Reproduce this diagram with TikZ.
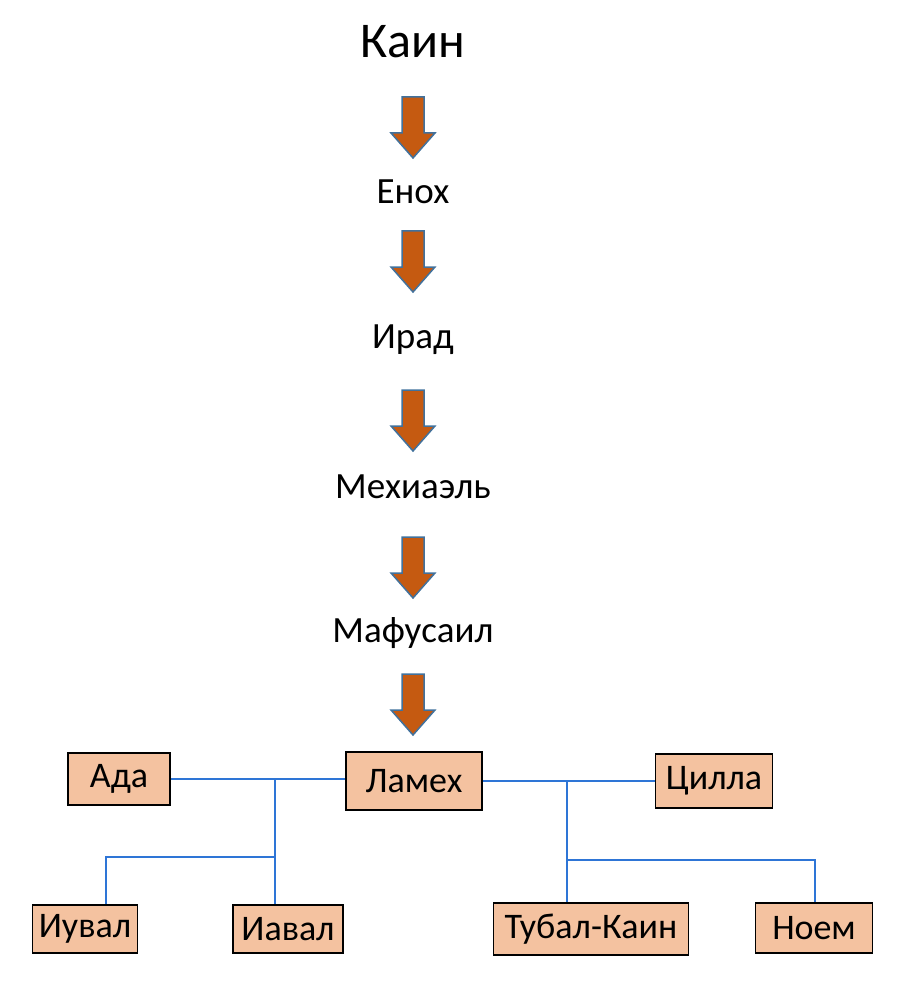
\documentclass[tikz,border=0pt]{standalone}
\usepackage{fontspec}
\setmainfont{Carlito}
\begin{document}
\begin{tikzpicture}[x=1pt,y=-1pt,
  lbl/.style={font=\fontsize{37}{40}\selectfont, inner sep=0},
  box/.style={draw=black, line width=1.6pt, fill=boxc, font=\fontsize{36}{40}\selectfont, inner sep=0, minimum height=52pt},
  arr/.style={draw=arrb, line width=1.5pt, fill=arrf, line join=miter},
  ln/.style={draw=linec, line width=1.1pt}]
\definecolor{boxc}{HTML}{F4C2A0}
\definecolor{arrb}{HTML}{41719C}
\definecolor{arrf}{HTML}{C55A11}
\definecolor{linec}{HTML}{2E75D6}
\newcommand{\downarr}[2]{\path[arr] (#1-11,#2) -- (#1+11,#2) -- (#1+11,#2+36) -- (#1+22,#2+36) -- (#1,#2+61) -- (#1-22,#2+36) -- (#1-11,#2+36) -- cycle;}
\useasboundingbox (0,0) rectangle (908,984);
\node[lbl, font=\fontsize{50}{54}\selectfont] (kain) at (413,42) {Каин};
\downarr{413}{97}
\node[lbl] (enoh) at (413,192) {Енох};
\downarr{413}{231}
\node[lbl] (irad) at (413,340) {Ирад};
\downarr{413}{390}
\node[lbl] (meh) at (413,487) {Мехиаэль};
\downarr{413}{537}
\node[lbl] (maf) at (413,633) {Мафусаил};
\downarr{413}{674}
\node[box, minimum width=102pt] (ada) at (119,779) {Ада};
\node[box, minimum width=136pt, minimum height=58pt] (lam) at (414,781) {Ламех};
\node[box, minimum width=117pt, minimum height=54pt] (cil) at (714,781) {Цилла};
\node[box, minimum width=105pt, minimum height=48pt] (iuv) at (85,929) {Иувал};
\node[box, minimum width=110pt, minimum height=48pt] (iav) at (288,929) {Иавал};
\node[box, minimum width=195pt] (tub) at (591,929) {Тубал-Каин};
\node[box, minimum width=117pt, minimum height=50pt] (noem) at (814,928) {Ноем};
\coordinate (j1) at (275,780);
\coordinate (j2) at (275,857);
\coordinate (j3) at (106,857);
\coordinate (k1) at (567,780);
\coordinate (k2) at (567,860);
\coordinate (k3) at (815,860);
\draw[ln] (ada.east) -- (ada.east -| lam.west);
\draw[ln] (j1) -- (j1 |- iav.north);
\draw[ln] (j2) -- (j3) -- (j3 |- iuv.north);
\draw[ln] (lam.east |- cil.west) -- (cil.west);
\draw[ln] (k1) -- (k1 |- tub.north);
\draw[ln] (k2) -- (k3) -- (k3 |- noem.north);
\end{tikzpicture}
\end{document}
